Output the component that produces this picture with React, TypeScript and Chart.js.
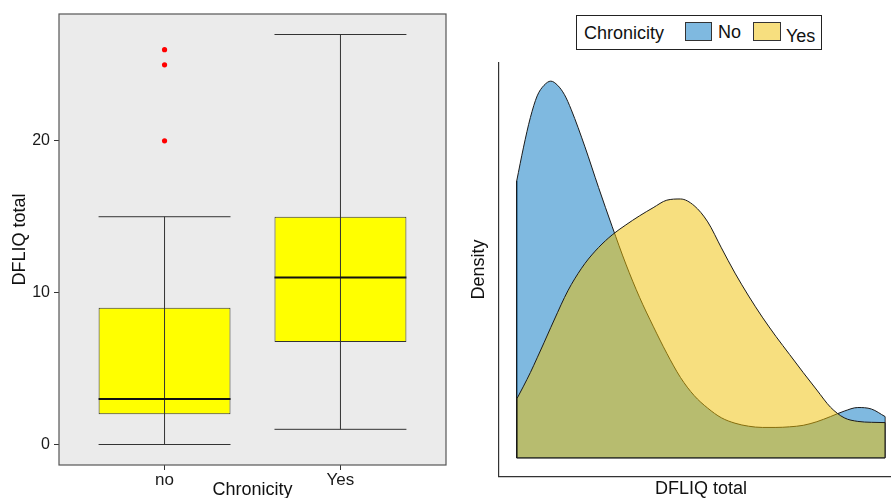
import React, { useEffect, useRef } from 'react';
import { Chart, registerables } from 'chart.js';

Chart.register(...registerables);

// ---------- Box plot data (DFLIQ total by Chronicity) ----------
const categories = ['no', 'Yes'];
const whiskerLow = [0, 1];
const q1 = [2, 6.75];
const medians = [3, 11];
const q3 = [9, 15];
const whiskerHigh = [15, 27];
const noOutliers = [20, 25, 26];
const boxTicks = [0, 10, 20];

// ---------- Density data ----------
const densityX = [0, 0.5, 1, 1.5, 2, 2.5, 3, 3.5, 4, 5, 6, 7, 8, 9, 10, 11, 12, 13, 14, 15, 16, 17, 18, 19, 20, 21, 22, 23, 24, 25, 26, 27];
const densityNo = [0.0919, 0.1031, 0.1129, 0.1201, 0.1236, 0.125, 0.1236, 0.1205, 0.1155, 0.1032, 0.0897, 0.0767, 0.0643, 0.0533, 0.0437, 0.0347, 0.0267, 0.0207, 0.0165, 0.0133, 0.0115, 0.0105, 0.0101, 0.0101, 0.0103, 0.0108, 0.012, 0.0137, 0.0155, 0.0167, 0.0162, 0.0137];
const densityYes = [0.0195, 0.0238, 0.0283, 0.0332, 0.0382, 0.0433, 0.0483, 0.0532, 0.0575, 0.0645, 0.0698, 0.074, 0.0773, 0.0803, 0.083, 0.0855, 0.0859, 0.0837, 0.0783, 0.0697, 0.0613, 0.0537, 0.0467, 0.0403, 0.0343, 0.0283, 0.0225, 0.0168, 0.0133, 0.0121, 0.0118, 0.0117];
const legendTitle = 'Chronicity';
const legendLabels = ['No', 'Yes'];

const FONT = '"Liberation Sans", Arial, Helvetica, sans-serif';
const BLUE = 'rgba(0,115,194,0.5)';
const YELLOW = 'rgba(239,192,0,0.5)';
const HALF = 0.375;

const panelPlugin = {
  id: 'panel',
  beforeDatasetsDraw(chart: any) {
    const { ctx, chartArea: a } = chart;
    ctx.save();
    ctx.fillStyle = '#EBEBEB';
    ctx.fillRect(a.left, a.top, a.right - a.left, a.bottom - a.top);
    ctx.restore();
  },
  afterDatasetsDraw(chart: any) {
    const { ctx, chartArea: a } = chart;
    ctx.save();
    ctx.strokeStyle = '#555';
    ctx.lineWidth = 1.2;
    ctx.strokeRect(a.left, a.top, a.right - a.left, a.bottom - a.top);
    ctx.restore();
  },
};

export default function App() {
  const leftRef = useRef<HTMLCanvasElement>(null);
  const rightRef = useRef<HTMLCanvasElement>(null);

  useEffect(() => {
    document.body.style.margin = '0';
    Chart.defaults.font.family = FONT;

    const lineDs = (data: any[], width: number, color: string, order: number) => ({
      type: 'line',
      data,
      borderColor: color,
      borderWidth: width,
      pointRadius: 0,
      tension: 0,
      fill: false,
      spanGaps: false,
      order,
    });

    const whiskers = categories.flatMap((_, i) => [
      { x: i + 1, y: whiskerLow[i] },
      { x: i + 1, y: whiskerHigh[i] },
      { x: i + 1, y: null },
    ]);
    const caps = categories.flatMap((_, i) => [
      { x: i + 1 - HALF, y: whiskerHigh[i] },
      { x: i + 1 + HALF, y: whiskerHigh[i] },
      { x: i + 1, y: null },
      { x: i + 1 - HALF, y: whiskerLow[i] },
      { x: i + 1 + HALF, y: whiskerLow[i] },
      { x: i + 1, y: null },
    ]);
    const medianLines = categories.flatMap((_, i) => [
      { x: i + 1 - HALF, y: medians[i] },
      { x: i + 1 + HALF, y: medians[i] },
      { x: i + 1, y: null },
    ]);

    const left = new Chart(leftRef.current!, {
      type: 'bar',
      data: {
        datasets: [
          {
            type: 'bar',
            data: categories.map((_, i) => ({ x: i + 1, y: [q1[i], q3[i]] })),
            backgroundColor: '#FFFF00',
            borderColor: '#333',
            borderWidth: 1,
            borderSkipped: false,
            categoryPercentage: 1,
            barPercentage: 0.75,
            order: 5,
          } as any,
          lineDs(caps, 1, '#333', 4) as any,
          lineDs(whiskers, 1, '#333', 3) as any,
          lineDs(medianLines, 2, '#111', 2) as any,
          {
            type: 'scatter',
            data: noOutliers.map((v) => ({ x: 1, y: v })),
            backgroundColor: '#FF0000',
            borderWidth: 0,
            pointRadius: 2.6,
            order: 1,
          } as any,
        ],
      },
      options: {
        animation: false,
        responsive: false,
        devicePixelRatio: 1,
        layout: { padding: { left: 0, top: 14, right: 2, bottom: 0 } },
        plugins: { legend: { display: false }, tooltip: { enabled: false } },
        scales: {
          x: {
            type: 'linear',
            min: 0.4,
            max: 2.6,
            offset: false,
            grid: { display: true, drawOnChartArea: false, drawTicks: true, tickLength: 5, color: '#333', offset: false },
            border: { display: false },
            afterBuildTicks: (s: any) => {
              s.ticks = categories.map((_, i) => ({ value: i + 1 }));
            },
            ticks: {
              callback: (v: any) => categories[Math.round(v) - 1] ?? '',
              font: { size: 17, family: FONT },
              color: '#1a1a1a',
              padding: 0,
              maxRotation: 0,
              autoSkip: false,
            },
            title: { display: true, text: 'Chronicity', font: { size: 18, family: FONT, lineHeight: 1 }, color: '#111', padding: { top: 0, bottom: -1 } },
            afterFit: (s: any) => {
              s.height = 33;
            },
          },
          y: {
            type: 'linear',
            min: -1.35,
            max: 28.35,
            grid: { display: true, drawOnChartArea: false, drawTicks: true, tickLength: 5, color: '#333' },
            border: { display: false },
            afterBuildTicks: (s: any) => {
              s.ticks = boxTicks.map((v) => ({ value: v }));
            },
            ticks: { font: { size: 16, family: FONT }, color: '#1a1a1a', padding: 4 },
            title: { display: true, text: 'DFLIQ total', font: { size: 18, family: FONT, lineHeight: 1 }, color: '#111', padding: { top: 11.5, bottom: 0 } },
            afterFit: (s: any) => {
              s.width = 59;
            },
          },
        },
      } as any,
      plugins: [panelPlugin],
    });

    const last = densityX.length - 1;
    const edge = (vals: number[]) => [
      { x: densityX[0], y: vals[0] },
      { x: densityX[0], y: 0 },
      { x: densityX[last], y: 0 },
      { x: densityX[last], y: vals[last] },
    ];
    const curve = (vals: number[]) => densityX.map((x, i) => ({ x, y: vals[i] }));
    const yMax = Math.max(...densityNo, ...densityYes);
    const xMax = densityX[last];

    const right = new Chart(rightRef.current!, {
      type: 'line',
      data: {
        datasets: [
          { label: legendLabels[0], data: edge(densityNo), borderColor: '#1a1a1a', borderWidth: 1, pointRadius: 0, tension: 0, fill: false, order: 4 },
          {
            label: legendLabels[0],
            data: curve(densityNo),
            borderColor: '#1a1a1a',
            borderWidth: 1,
            backgroundColor: BLUE,
            fill: 'origin',
            pointRadius: 0,
            cubicInterpolationMode: 'monotone',
            order: 3,
          },
          {
            label: legendLabels[1],
            data: curve(densityYes),
            borderColor: '#1a1a1a',
            borderWidth: 1,
            backgroundColor: YELLOW,
            fill: 'origin',
            pointRadius: 0,
            cubicInterpolationMode: 'monotone',
            order: 2,
          },
          { label: legendLabels[1], data: edge(densityYes), borderColor: '#1a1a1a', borderWidth: 1, pointRadius: 0, tension: 0, fill: false, order: 1 },
        ] as any,
      },
      options: {
        animation: false,
        responsive: false,
        devicePixelRatio: 1,
        layout: { padding: { left: 0, top: 62.3, right: 6.5, bottom: 0 } },
        plugins: { legend: { display: false }, tooltip: { enabled: false } },
        scales: {
          x: {
            type: 'linear',
            min: -0.05 * xMax,
            max: 1.05 * xMax,
            grid: { display: false },
            border: { display: true, color: '#333', width: 1.2 },
            ticks: { display: false },
            title: { display: true, text: 'DFLIQ total', font: { size: 18, family: FONT, lineHeight: 1 }, color: '#111', padding: { top: 0, bottom: 0 } },
            afterFit: (s: any) => {
              s.height = 21.3;
            },
          },
          y: {
            type: 'linear',
            min: -0.05 * yMax,
            max: 1.05 * yMax,
            grid: { display: false },
            border: { display: true, color: '#333', width: 1.2 },
            ticks: { display: false },
            title: { display: true, text: 'Density', font: { size: 18, family: FONT, lineHeight: 1 }, color: '#111', padding: { top: 20, bottom: 0 } },
            afterFit: (s: any) => {
              s.width = 48.3;
            },
          },
        },
      } as any,
    });

    return () => {
      left.destroy();
      right.destroy();
    };
  }, []);

  const text: React.CSSProperties = { position: 'absolute', font: `18px ${FONT}`, lineHeight: '18px', color: '#111', whiteSpace: 'nowrap' };
  const swatch: React.CSSProperties = { position: 'absolute', top: 22, height: 19, border: '1px solid #333', boxSizing: 'border-box' };

  return (
    <div style={{ position: 'relative', width: 891, height: 498, overflow: 'hidden', background: '#fff' }}>
      <canvas ref={leftRef} width={450} height={498} style={{ position: 'absolute', left: 0, top: 0 }} />
      <canvas ref={rightRef} width={460} height={498} style={{ position: 'absolute', left: 450, top: 0 }} />
      <div style={{ position: 'absolute', left: 576, top: 15, width: 246, height: 35, border: '1.5px solid #222', boxSizing: 'border-box', background: '#fff' }} />
      <span style={{ ...text, left: 584, top: 23.8 }}>{legendTitle}</span>
      <div style={{ ...swatch, left: 685, width: 27, background: BLUE }} />
      <span style={{ ...text, left: 718, top: 23 }}>{legendLabels[0]}</span>
      <div style={{ ...swatch, left: 753, width: 28, background: YELLOW }} />
      <span style={{ ...text, left: 786, top: 26.5 }}>{legendLabels[1]}</span>
    </div>
  );
}
